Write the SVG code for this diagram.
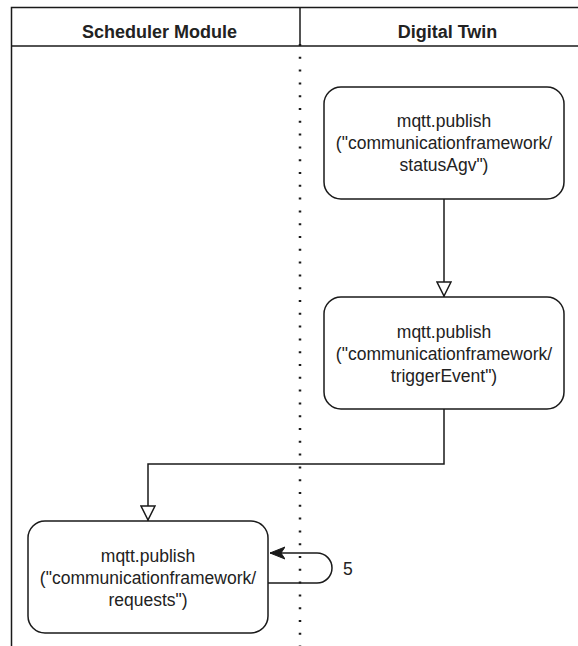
<svg xmlns="http://www.w3.org/2000/svg" width="578" height="646" viewBox="0 0 578 646">
  <style>
    .frame { fill: none; stroke: #1a1a1a; stroke-width: 1.5; }
    .lane-title { font-family: "Liberation Sans", Arial, sans-serif; font-size: 18px; font-weight: bold; fill: #222; text-anchor: middle; }
    .node rect { fill: #ffffff; stroke: #1a1a1a; stroke-width: 1.5; }
    .node text { font-family: "Liberation Sans", Arial, sans-serif; font-size: 17.5px; fill: #222; text-anchor: middle; }
    .edge { fill: none; stroke: #1a1a1a; stroke-width: 1.5; }
    .label { font-family: "Liberation Sans", Arial, sans-serif; font-size: 17.5px; fill: #222; }
  </style>
  <defs>
    <marker id="openBlock" viewBox="0 0 16 16" refX="16" refY="8" markerWidth="16" markerHeight="16" markerUnits="userSpaceOnUse" orient="auto">
      <path d="M1,1 L15,8 L1,15 Z" fill="#ffffff" stroke="#1a1a1a" stroke-width="1.5"/>
    </marker>
    <marker id="classic" viewBox="0 0 16 14" refX="15" refY="7" markerWidth="16" markerHeight="14" markerUnits="userSpaceOnUse" orient="auto">
      <path d="M0,1 L15,7 L0,13 L4,7 Z" fill="#1a1a1a" stroke="#1a1a1a" stroke-width="1"/>
    </marker>
  </defs>

  <rect width="578" height="646" fill="#ffffff"/>

  <!-- swimlane frame -->
  <g id="lanes">
    <path class="frame" d="M578,7.5 H11.5 V646"/>
    <path class="frame" d="M11.5,46 H578"/>
    <path class="frame" d="M300,7.5 V46"/>
    <line x1="300" y1="44" x2="300" y2="646" stroke="#1a1a1a" stroke-width="2.5" stroke-dasharray="2 10.8"/>
    <text class="lane-title" x="159.5" y="38">Scheduler Module</text>
    <text class="lane-title" x="447.5" y="38">Digital Twin</text>
  </g>

  <!-- connectors -->
  <g id="connectors">
    <path class="edge" d="M444,199 V297" marker-end="url(#openBlock)"/>
    <path class="edge" d="M444,409 V464 H148 V521" marker-end="url(#openBlock)"/>
    <path class="edge" d="M268,583 H317 A15,15 0 0 0 317,553 H270" marker-end="url(#classic)"/>
    <text class="label" x="343" y="575">5</text>
  </g>

  <g id="status-agv" class="node">
    <rect x="324" y="87" width="240" height="112" rx="17" ry="17"/>
    <text x="444" y="127">mqtt.publish</text>
    <text x="444" y="149">("communicationframework/</text>
    <text x="444" y="171">statusAgv")</text>
  </g>

  <g id="trigger-event" class="node">
    <rect x="324" y="297" width="240" height="112" rx="17" ry="17"/>
    <text x="444" y="338">mqtt.publish</text>
    <text x="444" y="360">("communicationframework/</text>
    <text x="444" y="382">triggerEvent")</text>
  </g>

  <g id="requests" class="node">
    <rect x="28" y="521" width="240" height="112" rx="17" ry="17"/>
    <text x="148" y="562">mqtt.publish</text>
    <text x="148" y="584">("communicationframework/</text>
    <text x="148" y="606">requests")</text>
  </g>
</svg>
